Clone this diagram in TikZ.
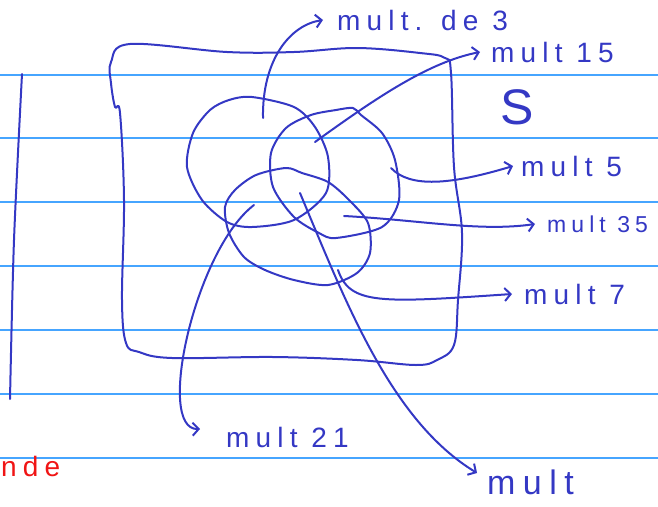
\documentclass[tikz,border=0pt]{standalone}
\usepackage{fontspec}
\newfontfamily\handfont[LetterSpace=22]{Liberation Sans}
\usetikzlibrary{arrows.meta}

\definecolor{ink}{RGB}{52,56,196}
\definecolor{ruling}{RGB}{70,165,255}
\definecolor{redink}{RGB}{240,20,20}

\tikzset{
  hand/.style={ink, line width=2pt, line cap=round, line join=round},
  tip/.style={-{Straight Barb[length=6pt,width=13pt,line width=2pt]}},
  lbl/.style={text=ink, font=\handfont\fontsize{28}{30}\selectfont, inner sep=0pt, anchor=west}
}

\begin{document}
\begin{tikzpicture}[x=1pt,y=-1pt]
  \useasboundingbox (0,0) rectangle (658,506);

  % ruled paper
  \foreach \yy in {75,138,202,266,330,394,458}
    \draw[ruling, line width=1.2pt] (0,\yy) -- (658,\yy);

  \draw[hand] plot[smooth] coordinates {(22,74) (14,240) (10,399)};
  \node[text=redink, font=\handfont\fontsize{28}{30}\selectfont, inner sep=0pt, anchor=west] (nde) at (1,466) {nde};

  % universe
  \draw[hand] plot[smooth cycle, tension=0.6] coordinates {
    (111,62) (130,44) (227,52) (294,52) (357,48) (420,53) (445,58) (451,73)
    (454,167) (462,233) (458,300) (454,345) (437,360) (416,365) (357,360)
    (273,357) (172,358) (139,352) (126,343) (122,300) (124,200) (120,113)
    (115,107) (111,83)};
  \node[text=ink, font=\handfont\fontsize{50}{52}\selectfont, inner sep=0pt] (S) at (517,107) {S};

  % the three sets
  \draw[hand] plot[smooth cycle] coordinates {
    (229,100) (252,97) (294,107) (315,127) (328,157) (326,193) (294,220)
    (252,227) (227,222) (202,200) (187,167) (193,133) (210,110)};
  \draw[hand] plot[smooth cycle] coordinates {
    (353,108) (361,115) (382,133) (395,160) (399,200) (382,227) (336,238)
    (319,233) (294,217) (273,187) (271,153) (286,128) (311,115) (336,110)};
  \draw[hand] plot[smooth cycle] coordinates {
    (286,168) (302,173) (328,182) (349,200) (368,223) (370,253) (357,273)
    (328,285) (294,280) (265,270) (244,257) (229,233) (225,207) (235,190)
    (256,175)};

  % labels
  \node[lbl] (L3) at (337,20) {mult. de 3};
  \node[lbl] (L15) at (491,52) {mult 15};
  \node[lbl] (L5) at (521,166) {mult 5};
  \node[lbl, font=\handfont\fontsize{23}{25}\selectfont] (L35) at (547,224) {mult 35};
  \node[lbl] (L7) at (524,294) {mult 7};
  \node[lbl] (L21) at (226,437) {mult 21};
  \node[lbl, font=\handfont\fontsize{34}{36}\selectfont] (L105) at (487,482) {mult};

  \coordinate (P3) at (263,118);
  \coordinate (P15) at (315,142);
  \coordinate (P5) at (391,168);
  \coordinate (P35) at (344,216);
  \coordinate (P7) at (338,270);
  \coordinate (P21) at (254,205);
  \coordinate (P105) at (300,193);

  \draw[hand,tip] (P3) .. controls (262,60) and (290,25) .. ([xshift=-14pt]L3.west);
  \draw[hand,tip] (P15) .. controls (380,95) and (430,62) .. ([xshift=-11pt]L15.west);
  \draw[hand,tip] (P5) .. controls (410,188) and (450,185) .. ([xshift=-8pt]L5.west);
  \draw[hand,tip] (P35) .. controls (420,220) and (480,232) .. ([xshift=-12pt]L35.west);
  \draw[hand,tip] (P7) .. controls (350,305) and (380,303) .. ([xshift=-12pt]L7.west);
  \draw[hand,tip] (P21) .. controls (195,250) and (155,430) .. ([xshift=-26pt,yshift=8pt]L21.west);
  \draw[hand,tip] (P105) .. controls (345,300) and (390,420) .. ([xshift=-10pt,yshift=9pt]L105.west);
\end{tikzpicture}
\end{document}
